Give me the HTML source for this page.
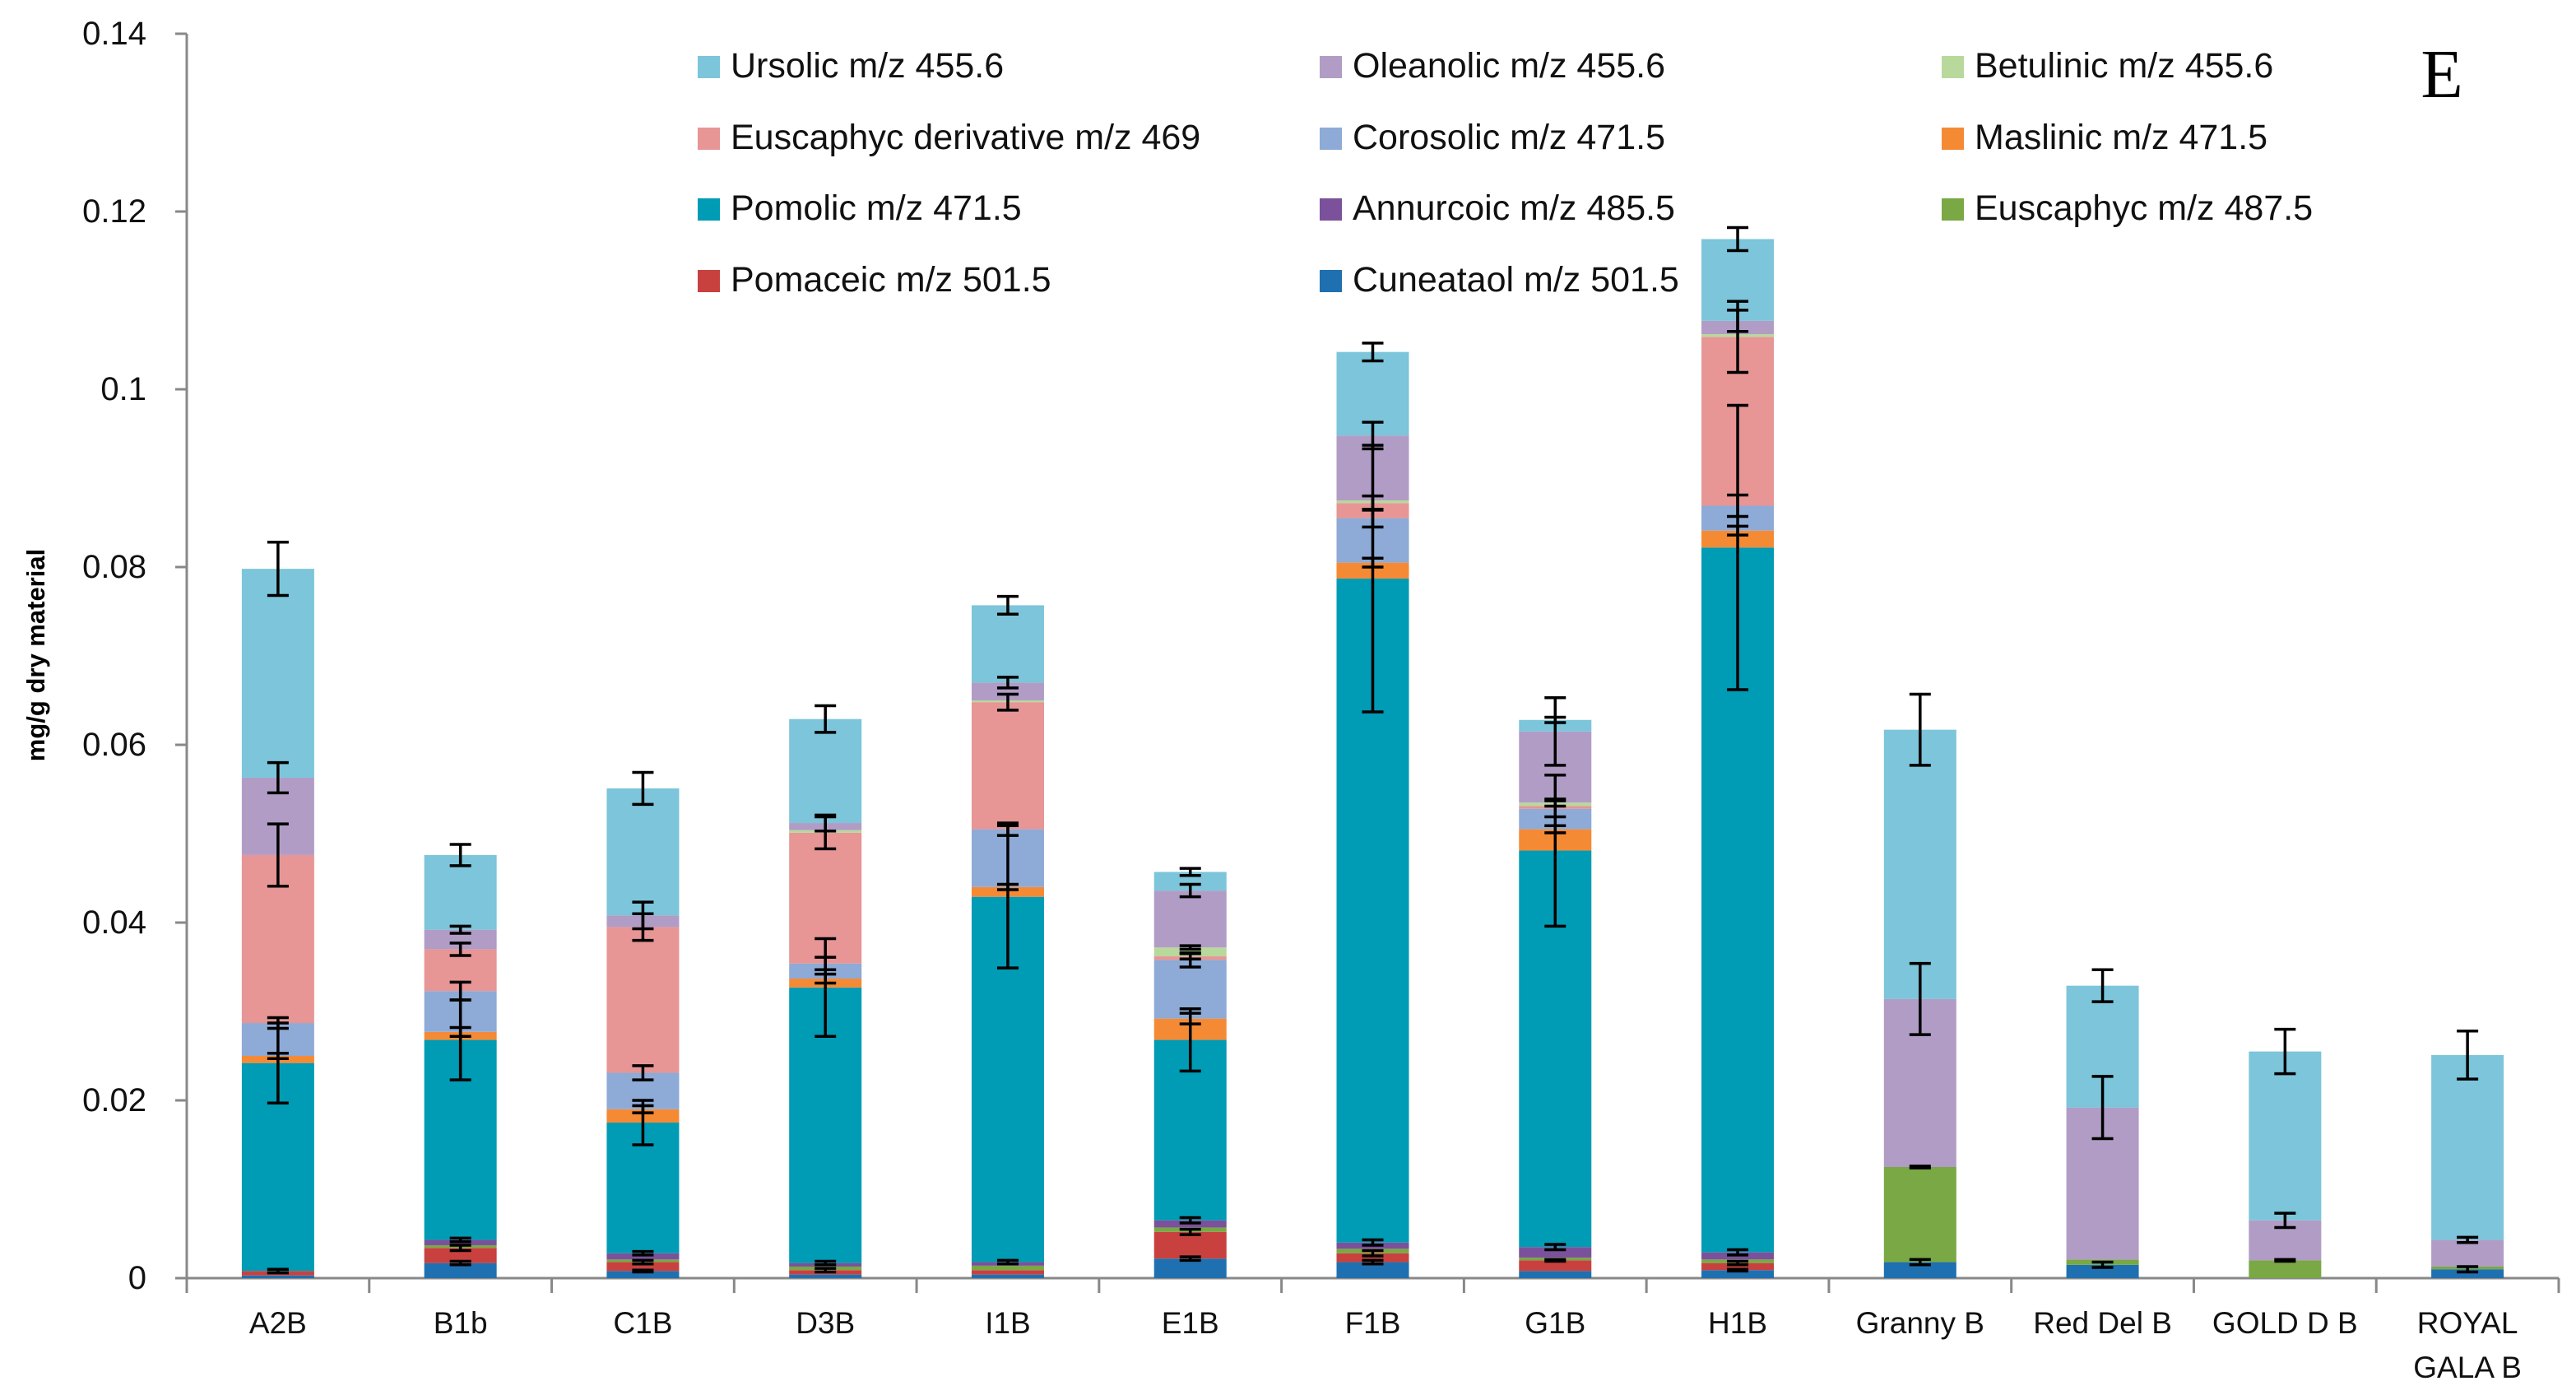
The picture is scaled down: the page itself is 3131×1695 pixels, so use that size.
<!DOCTYPE html>
<html><head><meta charset="utf-8"><style>
html,body{margin:0;padding:0;background:#fff;}
svg{display:block;font-family:"Liberation Sans Narrow","Liberation Sans",sans-serif;}
</style></head><body>
<svg id="chart" width="3131" height="1695" viewBox="0 0 3131 1695" xmlns="http://www.w3.org/2000/svg">
<g id="grid"></g>
<g id="bars"></g>
<g id="errs"></g>
<g id="legend"></g>
<text x="2968" y="118" font-family="Liberation Serif, serif" font-size="84" text-anchor="middle">E</text>
<text transform="translate(54,796) rotate(-90)" font-family="Liberation Sans, sans-serif" font-weight="bold" font-size="31" text-anchor="middle">mg/g dry material</text>
</svg>
<script>
const categories = ["A2B","B1b","C1B","D3B","I1B","E1B","F1B","G1B","H1B","Granny B","Red Del B","GOLD D B","ROYAL GALA B"];
const yTicks = [0,0.02,0.04,0.06,0.08,0.1,0.12,0.14];
const yTickLabels = ["0","0.02","0.04","0.06","0.08","0.1","0.12","0.14"];
const seriesNames = ["Cuneataol m/z 501.5","Pomaceic m/z 501.5","Euscaphyc m/z 487.5","Annurcoic m/z 485.5","Pomolic m/z 471.5","Maslinic m/z 471.5","Corosolic m/z 471.5","Euscaphyc derivative m/z 469","Betulinic m/z 455.6","Oleanolic m/z 455.6","Ursolic m/z 455.6"];
const seriesColors = ["#1f70b0","#c8413f","#79a844","#7b519b","#009bb4","#f58a35","#8eaad6","#e79595","#b8d89c","#b19cc6","#7cc5da"];
const cuneataol  = [.0003,.0017,.0008,.0004,.0004,.0022,.0018,.0008,.0009,.0018,.0015,0,.001];
const pomaceic   = [.0005,.0017,.001,.0005,.0005,.003,.001,.0012,.0008,0,0,0,0];
const euscaphyc  = [0,.0003,.0003,.0004,.0005,.0005,.0005,.0003,.0004,.0107,.0006,.002,.0003];
const annurcoic  = [0,.0006,.0007,.0004,.0004,.0008,.0007,.0012,.0008,0,0,0,0];
const pomolic    = [.0234,.0225,.0147,.031,.0411,.0203,.0747,.0446,.0793,0,0,0,0];
const maslinic   = [.0008,.0009,.0015,.001,.0011,.0024,.0018,.0024,.0019,0,0,0,0];
const corosolic  = [.0037,.0046,.0041,.0017,.0065,.0066,.005,.0023,.0028,0,0,0,0];
const euscDeriv  = [.0189,.0047,.0164,.0147,.0143,.0004,.0017,.0003,.019,0,0,0,0];
const betulinic  = [0,0,0,.0003,.0002,.001,.0003,.0004,.0003,0,0,0,0];
const oleanolic  = [.0087,.0022,.0013,.0008,.002,.0064,.0073,.008,.0015,.0189,.0171,.0045,.003];
const ursolic    = [.0235,.0084,.0143,.0117,.0087,.0021,.0094,.0013,.0092,.0303,.0137,.019,.0208];
const errCun  = [0,.0002,.0001,0,0,.0002,.0002,0,.0001,.0003,.0003,0,.0003];
const errPomac= [.0002,.0003,.0002,.0002,0,.0003,.0003,.0001,.0002,0,0,0,0];
const errEusc = [0,0,0,0,0,0,0,0,0,.0001,0,.0001,0];
const errAnn  = [.0002,.0002,.0002,.0002,.0002,.0003,.0003,.0003,.0003,0,0,0,0];
const errPomol= [.0045,.0045,.0025,.0055,.008,.0035,.015,.0085,.016,0,0,0,0];
const errMasl = [.0003,.0005,.0004,.0005,.0003,.0006,.0005,.0004,.0005,0,0,0,0];
const errCoro = [.0006,.001,.0008,.0007,.0007,.0008,.001,.0009,.0012,0,0,0,0];
const errEder = [.0035,.0007,.0015,.0018,.0009,.0003,.0008,0,.004,0,0,0,0];
const errBet  = [0,0,0,0,0,.0002,0,.0004,0,0,0,0,0];
const errOlea = [.0017,.0004,.0015,.0009,.0006,.0007,.0015,.0038,.0012,.004,.0035,.0008,.0003];
const errUrs  = [.003,.0012,.0018,.0015,.001,.0004,.001,.0003,.0013,.004,.0018,.0025,.0027];

const series = [cuneataol,pomaceic,euscaphyc,annurcoic,pomolic,maslinic,corosolic,euscDeriv,betulinic,oleanolic,ursolic];
const errors = [errCun,errPomac,errEusc,errAnn,errPomol,errMasl,errCoro,errEder,errBet,errOlea,errUrs];
const NS="http://www.w3.org/2000/svg";
const X0=227, X1=3110, Y0=1553, YMAX=0.14, YTOP=41;
const bw=(X1-X0)/categories.length, barW=88;
const y=v=>Y0-(v/YMAX)*(Y0-YTOP);
const xc=i=>X0+bw*(i+0.5);
function mk(tag,attrs,parent){const e=document.createElementNS(NS,tag);for(const k in attrs)e.setAttribute(k,attrs[k]);parent.appendChild(e);return e;}
const grid=document.getElementById('grid'),bars=document.getElementById('bars'),errs=document.getElementById('errs'),leg=document.getElementById('legend');
let ax=mk('line',{x1:X0,y1:YTOP,x2:X0,y2:Y0,stroke:'#888','stroke-width':3},grid);


let bx=mk('line',{x1:X0,y1:Y0,x2:X1,y2:Y0,stroke:'#888','stroke-width':3},grid);


yTicks.forEach((t,i)=>{
  mk('line',{x1:X0-14,y1:y(t),x2:X0,y2:y(t),stroke:'#888','stroke-width':3},grid);
  const tx=mk('text',{x:178,y:y(t)+13,'font-size':40,'text-anchor':'end',fill:'#111'},grid);
  tx.textContent=yTickLabels[i];
  
  
});
for(let i=0;i<=categories.length;i++){mk('line',{x1:X0+bw*i,y1:Y0,x2:X0+bw*i,y2:Y0+18,stroke:'#888','stroke-width':3},grid);}
categories.forEach((c,i)=>{
  const parts=c==="ROYAL GALA B"?["ROYAL","GALA B"]:[c];
  parts.forEach((p,j)=>{
    const tx=mk('text',{x:xc(i),y:1620+j*54,'font-size':37,'text-anchor':'middle',fill:'#111'},grid);
    tx.textContent=p;
    
    
  });
  let base=0;
  series.forEach((s,k)=>{
    const v=s[i];
    if(v>0){
      const r=mk('rect',{x:xc(i)-barW/2,y:y(base+v),width:barW,height:y(base)-y(base+v),fill:seriesColors[k]},bars);
      
      
    }
    base+=v;
    const e=errors[k][i];
    if(e>0){
      const g=mk('g',{stroke:'#000','stroke-width':3.5},errs);
      
      
      mk('line',{x1:xc(i),y1:y(base+e),x2:xc(i),y2:y(base-e)},g);
      mk('line',{x1:xc(i)-13,y1:y(base+e),x2:xc(i)+13,y2:y(base+e)},g);
      mk('line',{x1:xc(i)-13,y1:y(base-e),x2:xc(i)+13,y2:y(base-e)},g);
    }
  });
});
const legendOrder=[10,9,8,7,6,5,4,3,2,1,0];
const colX=[848,1604,2360], rowY=[68,155,241,328];
legendOrder.forEach((k,n)=>{
  const cx=colX[n%3], ry=rowY[Math.floor(n/3)];
  const g=mk('g',{},leg);
  
  
  mk('rect',{x:cx,y:ry,width:27,height:27,fill:seriesColors[k]},g);
  const t=mk('text',{x:cx+40,y:ry+26,'font-size':43,fill:'#111'},g);
  t.textContent=seriesNames[k];
});
</script>
</body></html>
